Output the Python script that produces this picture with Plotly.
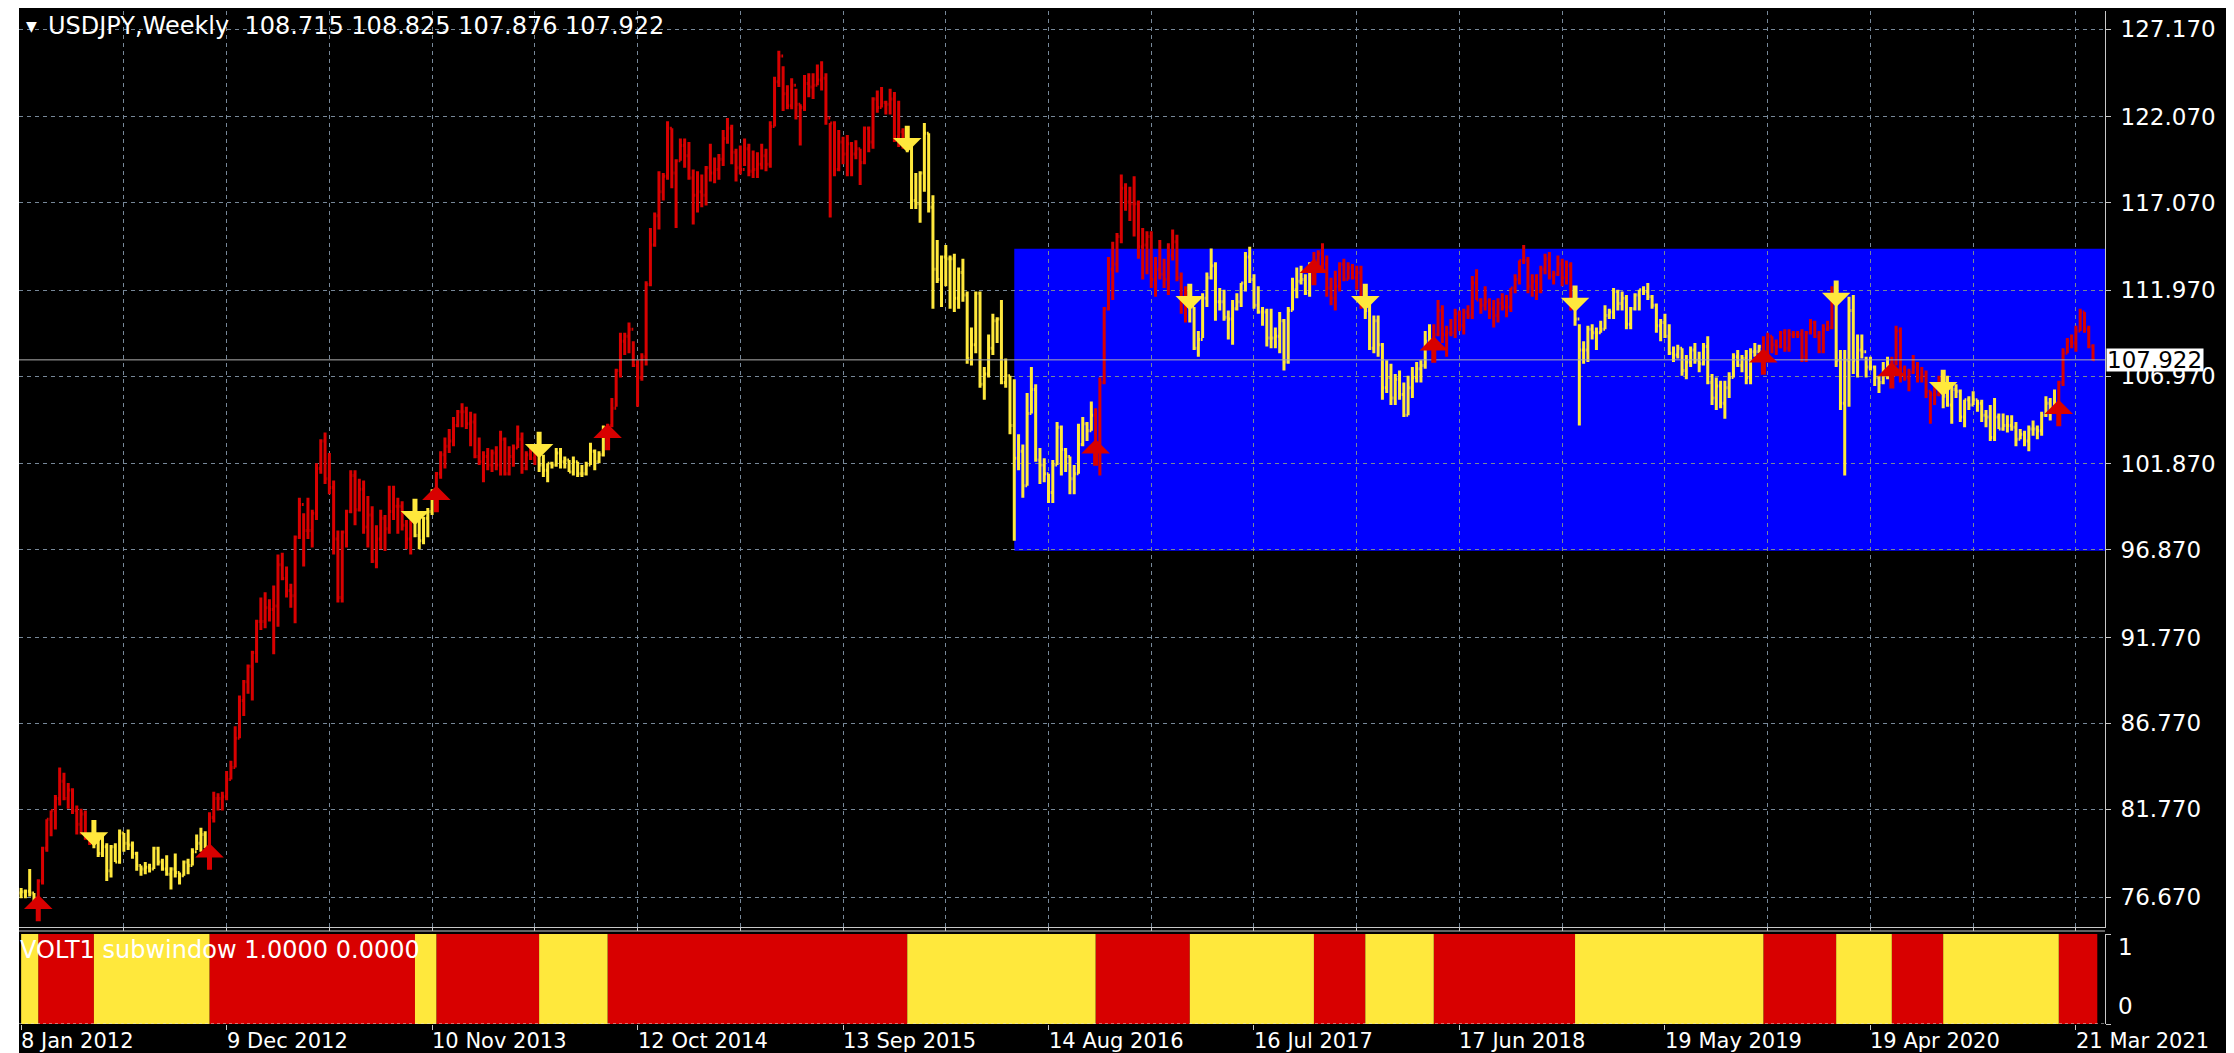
import plotly.graph_objects as go

W, H = 2234, 1053

# ---------------- data: USDJPY weekly bars (high, low, close), first bar = week of 8 Jan 2012
w2012 = [(77.2,76.6,76.98),(77.1,76.6,77.0),(78.3,76.7,76.9),(76.9,76.0,76.6),(77.7,76.1,77.6),(79.6,77.4,79.5),
         (81.2,79.3,81.2),(81.7,80.2,81.7),(82.6,80.6,82.4),(84.2,82.0,83.4),(83.9,82.3,82.4),(83.3,81.8,82.9),
         (83.0,81.5,81.7),(82.0,80.3,80.9),(81.8,80.3,81.5),(81.7,80.0,80.2),(80.4,79.7,79.8),(80.3,79.5,79.9),
         (80.2,79.0,79.2),(80.4,79.0,79.6),(79.8,77.6,78.2),(79.7,77.8,79.6),(79.8,78.7,78.7),(80.6,78.6,80.4),
         (80.4,79.3,79.8),(80.6,79.4,79.7),(79.9,78.9,79.2),(79.3,78.2,78.5),(78.5,77.9,78.3),(78.7,78.0,78.4),
         (78.6,78.1,78.3),(79.6,78.3,79.5),(79.6,78.5,78.7),(78.9,78.2,78.3),(79.1,77.9,78.0),(78.4,77.1,78.3),
         (79.2,77.8,78.1),(78.1,77.4,77.9),(78.8,77.9,78.7),(78.9,78.0,78.5),(79.5,78.5,79.3),(80.3,79.4,79.8),
         (80.7,79.3,80.3),(80.5,79.5,79.5),(81.6,79.1,81.3),(82.8,81.0,82.4),(82.7,81.7,82.4),(82.8,81.7,82.5),
         (84.0,82.3,83.5),(84.6,83.5,84.2),(86.6,84.2,85.9),(88.4,85.9,88.1)]
w2013 = [(89.3,87.2,89.2),(90.2,88.5,90.1),(91.0,88.1,90.9),(92.8,90.3,92.7),(94.1,92.2,92.7),(94.4,92.3,93.5),
         (94.0,92.7,93.4),(94.8,90.8,93.6),(96.6,92.4,96.0),(96.7,95.1,95.2),(95.9,94.1,94.5),(94.9,93.5,94.2),
         (97.7,92.6,97.6),(99.9,97.5,99.5),(99.0,95.9,98.0),(99.9,97.5,98.0),(99.2,97.0,99.0),(101.9,98.6,101.6),
         (103.3,101.3,103.2),(103.7,100.7,101.0),(102.5,100.1,100.5),(100.9,96.6,97.5),(98.0,93.8,94.1),(98.0,93.8,97.9),
         (99.2,97.0,99.1),(101.5,99.0,101.2),(101.5,98.3,99.2),(101.0,99.1,100.4),(100.9,97.8,98.2),(100.0,97.0,98.9),
         (99.4,96.1,96.2),(98.3,95.8,97.5),(99.2,96.9,98.7),(98.9,96.8,98.1),(100.6,97.8,99.1),(100.6,98.6,99.4),
         (99.9,97.8,99.4),(99.7,98.0,98.3),(98.6,96.9,97.5),(98.6,96.6,98.5),(99.0,97.6,97.7),(98.7,96.9,97.4),
         (98.8,97.2,98.7),(99.3,97.6,99.1),(100.4,98.9,100.2),(101.4,99.9,101.3),(102.6,101.0,102.4),(103.4,101.6,102.9),
         (103.9,102.5,103.2),(104.6,102.9,104.1),(105.0,104.0,104.9),(105.4,104.0,104.9)]
w2014 = [(105.2,103.9,104.2),(104.9,102.9,104.3),(104.8,102.2,102.3),(103.4,101.8,102.0),(102.6,100.8,102.3),(102.8,101.5,101.8),
         (102.7,101.4,102.5),(102.9,101.5,101.8),(103.8,101.2,103.3),(103.4,101.2,101.3),(102.9,101.2,102.3),(103.0,101.7,102.8),
         (104.1,102.8,103.3),(103.7,101.3,101.6),(102.6,101.5,102.4),(103.0,102.1,102.2),(103.0,101.8,102.6),(102.9,101.4,101.8),
         (102.4,101.1,101.5),(101.9,100.8,101.9),(102.0,101.6,101.8),(102.8,101.7,102.5),(102.8,101.6,102.0),(102.3,101.6,102.1),
         (102.1,101.4,101.4),(102.3,101.2,102.0),(102.0,101.1,101.3),(101.8,101.1,101.3),(102.0,101.2,101.8),(103.1,101.8,102.6),
         (102.7,101.5,102.0),(102.6,101.9,102.4),(104.1,102.3,103.8),(104.2,103.5,104.1),(105.7,104.0,105.1),(107.4,105.2,107.3),
         (109.5,106.9,109.0),(109.5,108.2,109.3),(110.1,108.3,109.7),(109.0,107.5,107.6),(107.9,105.2,106.9),(108.3,106.7,108.1),
         (112.5,107.6,112.3),(115.6,112.2,114.6),(116.5,114.5,116.3),(118.9,115.5,117.7),(118.8,117.2,118.6),(121.8,118.4,121.4),
         (121.4,117.9,118.8),(119.6,115.6,119.5),(120.8,119.5,120.4),(120.8,119.1,119.8)]
w2015 = [(120.6,118.4,118.5),(119.0,115.8,117.5),(118.9,116.5,117.7),(118.7,116.8,117.5),(119.2,116.9,119.1),(120.5,118.3,118.8),
         (119.7,118.2,119.0),(119.9,118.4,119.6),(121.3,119.2,120.8),(122.0,120.5,121.4),(121.6,119.3,120.0),(120.2,118.3,119.1),
         (120.4,118.7,119.0),(120.8,119.2,120.2),(120.5,118.6,118.9),(120.1,118.5,119.0),(120.0,118.5,119.3),(120.5,119.0,119.8),
         (120.2,118.9,119.3),(121.8,119.1,121.5),(124.4,121.5,124.1),(125.9,123.8,125.6),(125.0,122.4,123.4),(123.9,122.5,122.7),
         (124.3,122.5,123.9),(123.7,121.9,122.8),(122.8,120.4,122.6),(124.5,122.4,124.0),(124.6,123.2,123.8),(124.6,123.1,123.9),
         (125.1,123.9,124.2),(125.3,123.6,124.3),(124.6,121.6,122.0),(121.7,116.2,121.7),(121.8,118.6,119.0),(121.3,118.9,120.6),
         (120.9,119.3,119.9),(121.0,118.6,120.5),(120.6,118.6,119.9),(120.7,119.6,120.2),(120.2,118.1,119.4),(121.5,119.3,121.4),
         (121.5,120.0,120.6),(123.2,120.2,123.1),(123.6,122.3,122.6),(123.8,122.6,122.9),(123.0,122.2,122.8),(123.7,122.2,123.1),
         (123.5,120.6,120.9),(123.0,120.3,121.2),(121.4,120.2,120.3),(120.7,120.0,120.2)]
w2016 = [(120.6,116.7,117.2),(118.8,116.7,117.0),(118.9,115.9,118.8),(121.7,117.7,121.1),(121.1,116.5,116.8),(117.5,110.9,113.2),
         (114.9,112.4,112.6),(114.0,111.0,113.9),(114.6,112.2,113.8),(114.0,110.9,113.8),(114.1,110.7,111.5),(113.3,110.9,113.0),
         (113.8,111.3,111.7),(111.9,107.7,108.0),(109.8,107.6,108.8),(111.9,108.3,111.8),(111.9,106.3,106.5),(107.5,105.6,107.1),
         (109.4,106.9,108.6),(110.6,108.2,110.2),(110.4,108.9,110.3),(111.4,106.5,106.6),(108.0,106.3,107.0),(107.0,103.6,104.1),
         (106.8,97.4,102.2),(103.6,101.5,102.6),(103.0,99.9,100.6),(106.0,100.6,104.8),(107.5,104.8,106.2),(106.5,102.0,102.1),
         (102.8,100.7,101.8),(102.2,100.8,101.3),(101.3,99.6,100.2),(102.1,99.6,101.8),(104.3,101.8,104.0),(104.1,101.2,102.7),
         (102.8,101.4,102.3),(102.3,100.1,101.0),(101.8,100.1,101.3),(104.2,101.3,103.0),(104.6,102.9,104.2),(104.3,103.2,103.8),
         (105.5,103.8,104.7),(105.1,102.6,103.1),(106.9,101.2,106.6),(111.0,106.5,110.9),(113.9,110.8,113.2),(114.8,111.4,113.5),
         (115.3,113.0,115.1),(118.7,114.7,117.9),(118.2,116.6,117.1),(118.0,116.0,117.0)]
w2017 = [(118.6,115.1,117.0),(117.2,113.8,114.5),(115.6,112.6,114.6),(115.4,112.9,115.1),(115.4,112.1,112.6),(113.9,111.6,113.2),
         (114.9,112.6,112.9),(113.8,112.1,112.6),(114.7,111.7,114.0),(115.5,113.7,114.8),(115.2,112.5,112.7),(113.0,110.6,111.3),
         (112.2,110.1,111.4),(111.5,110.1,111.0),(111.0,108.5,108.6),(109.6,108.1,109.1),(111.8,109.2,111.5),(113.0,111.0,112.7),
         (114.4,112.6,113.4),(113.6,110.2,111.3),(112.1,110.8,111.3),(112.0,110.2,110.4),(110.8,109.1,110.3),(111.4,108.8,110.9),
         (111.8,110.8,111.3),(112.4,111.0,112.4),(114.2,111.9,113.9),(114.5,112.4,112.6),(112.9,110.9,111.1),(112.2,110.6,110.7),
         (111.0,109.9,110.7),(110.9,108.7,109.2),(110.9,108.6,109.2),(109.8,108.6,109.3),(110.7,108.3,110.2),(110.3,107.3,107.8),
         (111.0,107.7,110.8),(112.7,110.8,112.0),(113.3,111.5,112.5),(113.4,112.3,112.6),(112.9,111.7,111.8),(113.6,111.6,113.5),
         (114.2,113.1,113.7),(114.3,113.5,114.1),(114.7,113.1,113.5),(114.0,111.6,112.1),(112.7,111.1,111.5),(113.1,110.8,112.2),
         (113.6,111.9,113.5),(113.8,112.5,112.6),(113.6,112.6,113.3),(113.5,112.6,112.7)]
w2018 = [(113.4,112.0,113.0),(113.4,110.9,111.0),(111.5,110.3,110.8),(111.2,108.5,108.6),(110.5,108.3,110.2),(110.5,108.1,108.8),
         (108.9,105.6,106.3),(107.9,106.0,106.9),(107.7,105.3,105.7),(107.1,105.3,106.8),(107.3,105.6,105.9),(106.6,104.6,104.7),
         (107.0,104.7,106.3),(107.5,105.7,106.9),(107.8,106.6,107.4),(107.9,106.6,107.6),(109.6,107.4,109.0),(110.0,108.7,109.1),
         (110.0,108.6,109.4),(111.4,109.3,110.8),(111.1,108.9,109.4),(109.9,108.1,109.5),(110.3,109.3,109.5),(110.9,109.2,110.6),
         (110.8,109.6,109.9),(110.9,109.4,110.7),(111.1,110.3,110.5),(112.8,110.3,112.4),(113.2,111.4,111.4),(111.5,110.6,111.1),
         (112.2,110.8,111.3),(111.5,110.3,110.9),(111.4,109.8,110.5),(111.5,110.1,111.2),(111.8,110.8,111.0),(111.7,110.4,111.0),
         (112.1,110.7,112.1),(112.9,111.8,112.6),(113.7,112.3,113.7),(114.6,113.5,113.7),(113.9,111.8,112.2),(112.9,111.6,112.5),
         (112.9,111.4,111.9),(113.4,111.8,113.2),(114.1,112.9,113.8),(114.2,112.6,112.8),(113.1,112.3,112.9),(114.0,112.8,113.5),
         (113.8,112.2,112.7),(113.7,112.3,113.4),(113.6,110.8,111.2),(111.4,109.9,110.3)]
w2019 = [(110.0,104.1,108.5),(109.0,107.7,108.5),(109.9,107.8,109.7),(110.0,109.1,109.5),(109.8,108.5,109.5),(110.2,109.5,109.7),
         (111.1,109.7,110.5),(110.9,110.3,110.7),(112.1,110.3,111.9),(112.0,110.8,111.2),(111.9,110.8,111.5),(111.7,109.7,110.0),
         (111.0,109.7,110.9),(111.8,110.8,111.7),(112.0,110.8,112.0),(112.2,111.7,111.9),(112.4,111.4,111.6),(111.7,110.9,111.1),
         (111.2,109.5,109.9),(110.3,109.0,110.1),(110.6,109.2,109.3),(110.0,108.2,108.3),(108.7,107.8,108.2),(108.8,108.0,108.6),
         (108.6,107.0,107.3),(108.2,106.8,107.8),(108.7,107.5,108.5),(108.9,107.7,107.9),(108.4,107.2,107.7),(108.9,107.6,108.7),
         (109.3,106.5,106.6),(107.1,105.3,105.7),(106.9,105.0,106.4),(106.7,105.1,105.4),(106.7,104.5,106.3),(107.2,105.7,106.9),
         (108.3,106.9,108.1),(108.5,107.5,107.6),(108.2,107.2,108.0),(108.5,106.5,106.9),(108.6,106.5,108.4),(108.9,108.1,108.4),
         (108.8,108.3,108.7),(109.3,107.9,108.2),(109.5,108.2,109.3),(109.3,108.3,108.8),(109.1,108.2,108.7),(109.6,108.6,109.5),
         (109.7,108.4,108.6),(109.7,108.4,109.4),(109.6,109.2,109.4),(109.6,109.2,109.4)]
w2020 = [(109.7,107.8,108.1),(109.6,107.8,109.5),(110.3,109.4,110.1),(110.2,109.2,109.3),(109.6,108.3,108.4),(110.0,108.3,109.7),
         (110.2,109.6,109.8),(112.2,109.7,111.6),(111.7,107.5,107.9),(108.5,105.0,105.4),(108.5,101.2,107.9),(111.6,105.2,110.8),
         (111.7,107.1,107.9),(109.4,106.9,108.5),(109.4,108.0,108.4),(108.1,106.9,107.5),(108.1,107.3,107.5),(107.6,106.4,106.9),
         (107.0,106.0,106.6),(107.8,106.5,107.1),(108.1,106.8,107.6),(108.1,107.1,107.8),(109.9,107.6,109.6),(109.8,106.6,107.4),
         (107.6,106.7,106.9),(107.4,106.1,107.2),(108.2,107.1,107.5),(107.8,106.6,106.9),(107.5,106.6,107.0),(107.3,105.7,106.1),
         (106.1,104.2,105.9),(106.5,105.3,105.9),(107.0,105.8,106.6),(106.5,105.1,105.8),(107.0,105.2,105.3),(106.6,104.2,106.2),
         (106.5,105.7,106.1),(106.2,104.3,104.6),(105.6,104.0,105.6),(105.8,105.0,105.3),(106.1,105.3,105.6),(105.6,104.9,105.4),
         (105.6,104.3,104.7),(105.0,104.0,104.6),(105.3,103.2,103.4),(105.7,103.2,104.6),(104.8,103.9,103.9),(104.8,103.8,104.1),
         (104.7,103.7,104.1),(104.7,103.8,104.0),(104.3,102.9,103.3),(103.9,103.3,103.6),(103.8,102.9,103.2)]
w2021 = [(104.1,102.6,103.9),(104.4,103.5,103.9),(104.1,103.3,103.8),(104.9,103.5,104.7),(105.8,104.6,105.4),(105.7,104.4,104.9),
         (106.2,104.9,105.4),(106.7,104.9,106.6),(108.6,106.4,108.3),(109.2,108.3,109.0),(109.4,108.6,108.9),(109.9,108.4,109.6),
         (110.9,109.6,110.7),(110.7,109.5,109.7),(109.9,108.6,108.715),(108.825,107.876,107.922)]
first_open = 76.90      # open of the first bar
last_open = 108.715     # open of the current bar (from the chart header)

# date labels on the time scale (every 48 bars)
date_labels = ["8 Jan 2012", "9 Dec 2012", "10 Nov 2013", "12 Oct 2014", "13 Sep 2015", "14 Aug 2016",
               "16 Jul 2017", "17 Jun 2018", "19 May 2019", "19 Apr 2020", "21 Mar 2021"]
price_ticks = [127.170, 122.070, 117.070, 111.970, 106.970, 101.870, 96.870, 91.770, 86.770, 81.770, 76.670]

# VOLT1 regime: first bar of each run, alternating yellow (0) / red (1) starting with yellow
regime_starts = [0, 4, 17, 44, 92, 97, 121, 137, 207, 251, 273, 302, 314, 330, 363, 407, 424, 437, 449, 476]

# blue rectangle object
rect_start_bar = 232
rect_top = 114.38
rect_bottom = 96.81

# ---------------- assemble
bars = w2012 + w2013 + w2014 + w2015 + w2016 + w2017 + w2018 + w2019 + w2020 + w2021
n = len(bars)
highs = [b[0] for b in bars]
lows = [b[1] for b in bars]
closes = [b[2] for b in bars]
opens = [first_open] + closes[:-1]     # weekly FX bars open at previous close
opens[-1] = last_open
idx = list(range(n))

state = []
for i in idx:
    k = max(j for j, s in enumerate(regime_starts) if s <= i)
    state.append(k % 2)   # 1 = red, 0 = yellow
volt_red = [1 if s == 1 else 0 for s in state]
volt_yellow = [1 if s == 0 else 0 for s in state]

RED = "#D80000"
YEL = "#FFE83C"
BLUE = "#0000FF"
GRID = "#778899"
AXC = "#C8C8C8"
FONT = "DejaVu Sans"

x0px, x1px = 11, 2097
main_top, main_bot = 3, 919
sub_top, sub_bot = 926, 1016
xr = [-0.5, 486.8]
yr = [74.925, 128.22]

fig = go.Figure()

for flag, col in [(1, RED), (0, YEL)]:
    sel = [i for i in idx if state[i] == flag]
    fig.add_trace(go.Ohlc(
        x=sel, open=[opens[i] for i in sel], high=[highs[i] for i in sel],
        low=[lows[i] for i in sel], close=[closes[i] for i in sel],
        increasing=dict(line=dict(color=col, width=3)),
        decreasing=dict(line=dict(color=col, width=3)),
        tickwidth=0.4, hoverinfo="skip", showlegend=False, xaxis="x", yaxis="y"))

# VOLT1 histogram: one block per run of equal state (avoids seams between adjacent bars)
run_ends = regime_starts[1:] + [n]
for flag, col, vals in [(1, RED, volt_red), (0, YEL, volt_yellow)]:
    xs = [s for k, s in enumerate(regime_starts) if k % 2 == flag]
    ws = [e - s for k, (s, e) in enumerate(zip(regime_starts, run_ends)) if k % 2 == flag]
    ys = [vals[s] for s in xs]
    fig.add_trace(go.Bar(x=xs, y=ys, width=ws, offset=0, marker=dict(color=col, line=dict(width=0)),
                         hoverinfo="skip", showlegend=False, xaxis="x2", yaxis="y2"))

shapes = []
shapes.append(dict(type="rect", xref="x", yref="y", x0=rect_start_bar, x1=xr[1], y0=rect_bottom, y1=rect_top,
                   fillcolor=BLUE, line=dict(width=0), layer="below"))
shapes.append(dict(type="line", xref="x domain", yref="y", x0=0, x1=1, y0=closes[-1], y1=closes[-1],
                   line=dict(color="#B0B0B0", width=1), layer="above"))
shapes.append(dict(type="line", xref="paper", yref="paper", x0=x0px / W, x1=x1px / W,
                   y0=1 - 923 / H, y1=1 - 923 / H, line=dict(color=AXC, width=1)))
shapes.append(dict(type="line", xref="x2 domain", yref="y2", x0=0, x1=1, y0=0, y1=0,
                   line=dict(color="#E0E0E0", width=1, dash="3px,3px"), layer="above"))
shapes.append(dict(type="rect", xref="paper", yref="paper", x0=0, x1=x0px / W, y0=0, y1=1,
                   fillcolor="white", line=dict(width=0)))
shapes.append(dict(type="rect", xref="paper", yref="paper", x0=2222 / W, x1=1, y0=0, y1=1,
                   fillcolor="white", line=dict(width=0)))

ann = []
# switch arrows, centred on the bar's low (up, red) or high (down, yellow)
for k, s in enumerate(regime_starts[1:], start=1):
    if k % 2 == 1:
        ann.append(dict(x=s, y=lows[s], xref="x", yref="y", text="", showarrow=True, ax=0, ay=28, yshift=12,
                        arrowhead=1, arrowwidth=5, arrowsize=0.95, arrowcolor=RED))
    else:
        ann.append(dict(x=s, y=highs[s], xref="x", yref="y", text="", showarrow=True, ax=0, ay=-28, yshift=-12,
                        arrowhead=1, arrowwidth=5, arrowsize=0.95, arrowcolor=YEL))
# date labels
for j, lab in enumerate(date_labels):
    ann.append(dict(x=48 * j, y=1 - 1033 / H, xref="x2", yref="paper", text=lab, showarrow=False,
                    xanchor="left", yanchor="middle", xshift=-2, font=dict(family=FONT, size=21, color="white")))
# header
ann.append(dict(x=16 / W, y=1 - 18 / H, xref="paper", yref="paper", text="▼", showarrow=False,
                xanchor="left", yanchor="middle", font=dict(family=FONT, size=14, color="white")))
hdr = "USDJPY,Weekly\u00a0\u00a0{:.3f} {:.3f} {:.3f} {:.3f}".format(opens[-1], highs[-1], lows[-1], closes[-1])
ann.append(dict(x=38 / W, y=1 - 18 / H, xref="paper", yref="paper", text=hdr, showarrow=False,
                xanchor="left", yanchor="middle", font=dict(family=FONT, size=24, color="white")))
# subwindow label
ann.append(dict(x=10 / W, y=1 - 942 / H, xref="paper", yref="paper",
                text="VOLT1 subwindow {:.4f} {:.4f}".format(volt_red[-1], volt_yellow[-1]), showarrow=False,
                xanchor="left", yanchor="middle", font=dict(family=FONT, size=24, color="white")))
# subwindow scale labels
ann.append(dict(x=x1px / W, y=1, xref="paper", yref="y2", text="1", showarrow=False, xanchor="left",
                yanchor="top", xshift=11, yshift=2, font=dict(family=FONT, size=23, color="white")))
ann.append(dict(x=x1px / W, y=0, xref="paper", yref="y2", text="0", showarrow=False, xanchor="left",
                yanchor="bottom", xshift=11, yshift=3, font=dict(family=FONT, size=23, color="white")))
# current price tag
ann.append(dict(x=x1px / W, y=closes[-1], xref="paper", yref="y", text="{:.3f}".format(closes[-1]),
                showarrow=False, xanchor="left", yanchor="middle", align="left", width=96, height=22,
                bgcolor="white", borderpad=0, xshift=1, font=dict(family=FONT, size=23, color="black")))

grid_ticks = list(range(24, 481, 24))

fig.update_layout(
    width=W, height=H, margin=dict(l=0, r=0, t=0, b=0),
    paper_bgcolor="black", plot_bgcolor="black", showlegend=False, barmode="overlay",
    shapes=shapes, annotations=ann,
    xaxis=dict(domain=[x0px / W, x1px / W], range=xr, anchor="y", tickvals=grid_ticks, showticklabels=False,
               ticks="outside", ticklen=3, tickcolor=AXC, showgrid=True, gridcolor=GRID, griddash="4px,4px",
               gridwidth=1, showline=True, linecolor=AXC, linewidth=1, zeroline=False,
               rangeslider=dict(visible=False)),
    yaxis=dict(domain=[1 - main_bot / H, 1 - main_top / H], range=yr, anchor="x", side="right",
               tickvals=price_ticks, ticktext=["{:.3f}".format(v) for v in price_ticks],
               ticks="outside", ticklen=5, tickcolor=AXC, showgrid=True, gridcolor=GRID, griddash="4px,4px",
               gridwidth=1, showline=True, linecolor=AXC, linewidth=1, zeroline=False,
               tickfont=dict(family=FONT, size=23, color="white"), ticklabelstandoff=5),
    xaxis2=dict(domain=[x0px / W, x1px / W], range=xr, anchor="y2", matches="x", tickvals=[48 * j for j in range(11)],
                showticklabels=False, ticks="outside", ticklen=5, tickcolor=AXC, showgrid=False,
                showline=False, zeroline=False, rangeslider=dict(visible=False)),
    yaxis2=dict(domain=[1 - sub_bot / H, 1 - sub_top / H], range=[0, 1], anchor="x2", side="right",
                tickvals=[0, 1], showticklabels=False, ticks="outside", ticklen=5, tickcolor=AXC,
                showgrid=False, showline=True, linecolor=AXC, linewidth=1, zeroline=False),
)

fig.write_html("out.html")
